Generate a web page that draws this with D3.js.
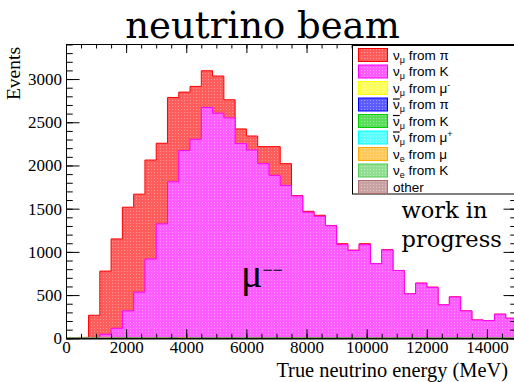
<!DOCTYPE html>
<html>
<head>
<meta charset="utf-8">
<script src="https://cdn.jsdelivr.net/npm/d3@7"></script>
<style>
  body { margin: 0; background: #fff; }
  svg { display: block; }
</style>
</head>
<body>
<div id="chart"></div>
<script>
// bins of 375 MeV from 0 to 15000 MeV (40 bins), lower edges
const binLow = d3.range(0, 15000, 375);
const xMax = 15000;

// events per bin, one array per beam component
const numuPi = [0, 10, 262, 732, 1034, 1200, 1134, 1145, 933, 975, 677, 612, 425, 430, 209, 170, 162, 197, 333, 252,
  5, 11, 12, 4, 12, 3, 12, 0, 4, 0, 0, 2, 2, 0, 2, 0, 0, 0, 0, 0];
const numuK = [0, 0, 5, 36, 116, 309, 526, 918, 1319, 1804, 2164, 2303, 2663, 2605, 2545, 2253, 2173, 2021, 1879, 1769,
  1642, 1453, 1406, 1302, 1077, 1011, 1083, 863, 1022, 779, 509, 631, 590, 387, 472, 317, 212, 204, 279, 232];
const numuMu = [0, 0, 0, 6, 0, 0, 0, 0, 0, 0, 0, 0, 0, 0, 0, 0, 0, 0, 0, 0,
  0, 0, 0, 0, 0, 0, 0, 0, 0, 0, 0, 0, 0, 0, 0, 0, 0, 0, 0, 0];
const anumuPi = [0, 0, 0, 0, 0, 0, 0, 0, 0, 8, 0, 0, 8, 0, 0, 0, 0, 0, 0, 0,
  0, 0, 0, 0, 0, 0, 0, 0, 0, 0, 0, 0, 0, 0, 0, 0, 0, 0, 0, 0];
const anumuK = [0, 0, 0, 0, 0, 8, 8, 0, 0, 0, 0, 0, 0, 0, 6, 0, 6, 0, 6, 0,
  0, 6, 6, 0, 6, 6, 0, 0, 0, 6, 6, 6, 0, 0, 6, 0, 0, 0, 0, 0];
const anumuMu = [0, 0, 0, 0, 0, 0, 0, 0, 0, 0, 0, 0, 0, 0, 0, 0, 0, 0, 0, 0,
  0, 0, 0, 0, 0, 0, 0, 0, 0, 0, 0, 0, 0, 0, 0, 0, 0, 0, 0, 0];
const nueMu = [0, 0, 0, 4, 0, 0, 0, 0, 0, 0, 8, 0, 0, 0, 0, 0, 0, 0, 0, 0,
  0, 0, 0, 0, 0, 0, 0, 0, 0, 0, 0, 0, 0, 0, 0, 0, 0, 0, 0, 0];
const nueK = [0, 0, 0, 0, 0, 0, 0, 0, 5, 0, 0, 0, 0, 0, 0, 0, 0, 0, 0, 0,
  5, 0, 0, 0, 0, 0, 0, 0, 0, 0, 0, 0, 0, 0, 0, 0, 0, 0, 0, 0];
const other = [0, 0, 0, 0, 0, 0, 0, 0, 0, 0, 0, 0, 0, 0, 0, 0, 0, 0, 0, 0,
  0, 0, 0, 0, 0, 0, 0, 0, 0, 0, 0, 0, 0, 0, 0, 0, 0, 0, 0, 0];

const xTicks = [0, 2000, 4000, 6000, 8000, 10000, 12000, 14000];
const yTicks = [0, 500, 1000, 1500, 2000, 2500, 3000];

// legend order (top to bottom); stack is drawn in reverse (other at the bottom)
const components = [
  { key: "numuPi", values: numuPi, color: "#ff0000", nu: "ν", bar: false, sub: "μ", from: "π", sup: "" },
  { key: "numuK", values: numuK, color: "#ff00ff", nu: "ν", bar: false, sub: "μ", from: "K", sup: "" },
  { key: "numuMu", values: numuMu, color: "#ffff00", nu: "ν", bar: false, sub: "μ", from: "μ", sup: "-" },
  { key: "anumuPi", values: anumuPi, color: "#0000ff", nu: "ν", bar: true, sub: "μ", from: "π", sup: "" },
  { key: "anumuK", values: anumuK, color: "#00cc00", nu: "ν", bar: true, sub: "μ", from: "K", sup: "" },
  { key: "anumuMu", values: anumuMu, color: "#00ffff", nu: "ν", bar: true, sub: "μ", from: "μ", sup: "+" },
  { key: "nueMu", values: nueMu, color: "#ffaa00", nu: "ν", bar: false, sub: "e", from: "μ", sup: "" },
  { key: "nueK", values: nueK, color: "#55cc55", nu: "ν", bar: false, sub: "e", from: "K", sup: "" },
  { key: "other", values: other, color: "#aa7070", nu: "", bar: false, sub: "", from: "", sup: "", text: "other" }
];

const W = 514, H = 382;
const svg = d3.select("#chart").append("svg").attr("width", W).attr("height", H);

const rows = binLow.map((e, i) => {
  const r = { e: e };
  components.forEach((c) => { r[c.key] = c.values[i]; });
  return r;
});
const stackKeys = components.map((c) => c.key).reverse();
const stacked = d3.stack().keys(stackKeys)(rows);
const totals = rows.map((r) => d3.sum(stackKeys, (k) => r[k]));

const x = d3.scaleLinear().domain([0, xMax]).range([66, 517]);
const y = d3.scaleLinear().domain([0, d3.max(totals) * 1.1]).range([338.3, 44]);

// dotted fill patterns (ROOT style)
const defs = svg.append("defs");
components.forEach((c) => {
  const p = defs.append("pattern")
    .attr("id", "pat-" + c.key)
    .attr("patternUnits", "userSpaceOnUse")
    .attr("width", 3).attr("height", 3);
  p.append("rect").attr("width", 3).attr("height", 3)
    .attr("fill", d3.interpolateRgb(c.color, "#ffffff")(0.36));
  p.append("rect").attr("x", 1).attr("y", 1).attr("width", 1).attr("height", 1)
    .attr("fill", d3.interpolateRgb(c.color, "#ffffff")(0.6));
});

// histograms: each cumulative drawn from 0, top first
const area = d3.area()
  .curve(d3.curveStepAfter)
  .x((d) => x(d.x))
  .y0(y(0))
  .y1((d) => y(d.v));

const hist = svg.append("g");
stacked.slice().reverse().forEach((layer) => {
  const c = components.find((d) => d.key === layer.key);
  const pts = layer.map((d, i) => ({ x: binLow[i], v: d[1] }));
  pts.push({ x: xMax, v: layer[layer.length - 1][1] });
  hist.append("path")
    .attr("d", area(pts))
    .attr("fill", "url(#pat-" + c.key + ")")
    .attr("stroke", c.color)
    .attr("stroke-width", 1);
});

// axes / frame (minor and major ticks in separate groups)
const fmt = d3.format("d");
const serif = "'Liberation Serif', 'Times New Roman', serif";
const minorX = d3.range(0, 15001, 500);
const minorY = d3.range(0, 3401, 100);

function axisGroup(transform, axis) {
  const g = svg.append("g").attr("transform", transform).call(axis);
  g.attr("font-family", serif).attr("font-size", 17);
  g.select(".domain").attr("stroke", "#000");
  return g;
}

axisGroup("translate(66,0)", d3.axisLeft(y).tickValues(minorY).tickSize(-6.75).tickSizeOuter(0).tickFormat(""));
axisGroup("translate(66,0)", d3.axisLeft(y).tickValues(yTicks).tickSize(-13.5).tickSizeOuter(0).tickPadding(4).tickFormat(fmt));

axisGroup(`translate(0,${y(0)})`, d3.axisBottom(x).tickValues(minorX).tickSize(-4.5).tickSizeOuter(0).tickFormat(""));
axisGroup(`translate(0,${y(0)})`, d3.axisBottom(x).tickValues(xTicks).tickSize(-9).tickSizeOuter(0).tickPadding(3).tickFormat(fmt));

axisGroup("translate(0,44)", d3.axisTop(x).tickValues(minorX).tickSize(-4.5).tickSizeOuter(0).tickFormat(""));
axisGroup("translate(0,44)", d3.axisTop(x).tickValues(xTicks).tickSize(-9).tickSizeOuter(0).tickFormat(""));

axisGroup("translate(517,0)", d3.axisRight(y).tickValues(minorY).tickSize(-6.75).tickSizeOuter(0).tickFormat(""));
axisGroup("translate(517,0)", d3.axisRight(y).tickValues(yTicks).tickSize(-13.5).tickSizeOuter(0).tickFormat(""));

svg.selectAll(".tick text")
  .style("font-family", serif)
  .style("font-size", "17px")
  .attr("fill", "#000");

// axis titles
svg.append("text")
  .attr("transform", "translate(20,47) rotate(-90)")
  .attr("text-anchor", "end")
  .attr("font-family", serif)
  .attr("font-size", 19.5)
  .text("Events");

svg.append("text")
  .attr("x", 508).attr("y", 377)
  .attr("text-anchor", "end")
  .attr("font-family", serif)
  .attr("font-size", 20.4)
  .text("True neutrino energy (MeV)");

// title and annotations
svg.append("text")
  .attr("x", 262.5).attr("y", 38)
  .attr("text-anchor", "middle")
  .attr("font-family", "'DejaVu Serif', serif")
  .attr("font-size", 37)
  .text("neutrino beam");

svg.append("text")
  .attr("x", 401.5).attr("y", 218)
  .attr("font-family", "'DejaVu Serif', serif")
  .attr("font-size", 22.5)
  .text("work in");
svg.append("text")
  .attr("x", 401.5).attr("y", 246.5)
  .attr("font-family", "'DejaVu Serif', serif")
  .attr("font-size", 22.5)
  .text("progress");

const mu = svg.append("text")
  .attr("x", 241).attr("y", 287)
  .attr("font-family", serif)
  .attr("font-size", 40);
mu.append("tspan").text("μ");
mu.append("tspan").attr("font-size", 18).attr("dy", -11).text("−−");

// legend
const legend = svg.append("g");
legend.append("rect")
  .attr("x", 352.5).attr("y", 45.5)
  .attr("width", 175).attr("height", 148.5)
  .attr("fill", "#fff")
  .attr("stroke", "#000");

components.forEach((c, i) => {
  const cy = 55 + i * 16.5;
  legend.append("rect")
    .attr("x", 358.5).attr("y", cy - 6.5)
    .attr("width", 29).attr("height", 13)
    .attr("fill", "url(#pat-" + c.key + ")")
    .attr("stroke", c.color);
  const t = legend.append("text")
    .attr("x", 393).attr("y", cy + 4.5)
    .attr("font-family", "'Liberation Sans', Arial, sans-serif")
    .attr("font-size", 13.5)
    .attr("fill", "#000");
  if (c.text) {
    t.text(c.text);
    return;
  }
  t.append("tspan").text(c.nu);
  t.append("tspan").attr("font-size", 9).attr("dy", 3).text(c.sub);
  t.append("tspan").attr("dy", -3).text(" from  " + c.from);
  if (c.sup) t.append("tspan").attr("font-size", 9).attr("dy", -5).text(c.sup);
  if (c.bar) {
    const w = t.node().getSubStringLength(0, 1);
    legend.append("line")
      .attr("x1", 393).attr("x2", 393 + w)
      .attr("y1", cy - 5.5).attr("y2", cy - 5.5)
      .attr("stroke", "#000").attr("stroke-width", 1.2);
  }
});
</script>
</body>
</html>
